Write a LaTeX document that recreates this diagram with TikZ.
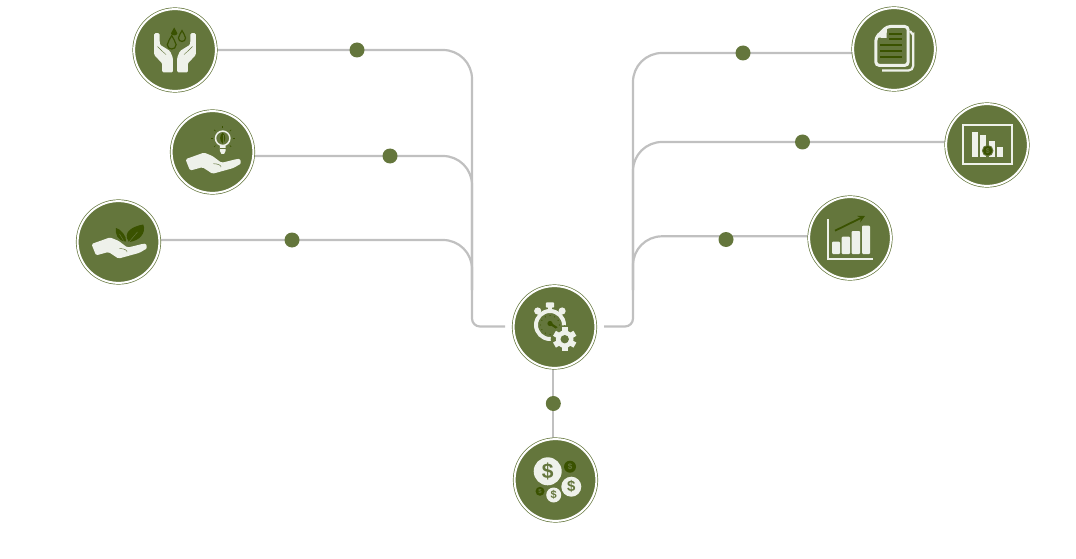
\documentclass[tikz,border=0pt]{standalone}
\usepackage{fontspec}
\setsansfont{Liberation Sans}
\usepackage{tikz}
\usetikzlibrary{arrows.meta,backgrounds}

\definecolor{leaf}{HTML}{64763C}
\definecolor{deep}{HTML}{3A5200}
\definecolor{ice}{HTML}{EEF1EA}
\definecolor{wire}{HTML}{C0C0C0}

\tikzset{
    pics/openhand/.style={code={
        \fill[ice, rounded corners=1.5pt] (-27,2) -- (-8.5,-4.6) -- (0,-1.2) -- (9,5.6) -- (24.5,1.8)
            .. controls (28.5,1.6) and (29,6.2) .. (26,7.8) -- (21,10.8) -- (0,16.6) -- (-10,10) -- (-22.5,13.4) -- cycle;
        \draw[leaf, line width=.5pt] (1,6.5) .. controls (6,6.5) and (9,8.5) .. (8.5,10);
    }}
}

\begin{document}
\begin{tikzpicture}[
    x=1pt, y=-1pt,
    disc/.style={circle, draw=leaf, fill=leaf, double=white, double distance=2pt, line width=.7pt,
        minimum size=81.8pt, inner sep=0pt, outer sep=0pt},
    knot/.style={circle, fill=leaf, minimum size=15pt, inner sep=0pt, outer sep=0pt},
    line/.style={draw=wire, line width=2.2pt},
    coin/.style={circle, fill=ice, text=leaf, inner sep=0pt, outer sep=0pt, font=\sffamily\bfseries},
    darkcoin/.style={coin, fill=deep, text=leaf}
]
    \useasboundingbox (0,0) rectangle (1076,559);

    \node[disc] (care) at (175,50) {};
    \node[disc] (bulb) at (212.5,152) {};
    \node[disc] (plant) at (118.5,242) {};
    \node[disc] (hub) at (554.5,327) {};
    \node[disc] (coins) at (555.5,480) {};
    \node[disc] (papers) at (894,49) {};
    \node[disc] (board) at (987,145) {};
    \node[disc] (growth) at (850,238) {};

    \node[knot] (caredot) at (357,50) {};
    \node[knot] (bulbdot) at (390,156) {};
    \node[knot] (plantdot) at (292,240) {};
    \node[knot] (papersdot) at (743,53) {};
    \node[knot] (boarddot) at (802.5,142) {};
    \node[knot] (growthdot) at (726,239.5) {};
    \node[knot] (coinsdot) at (553.3,403.5) {};

    \coordinate (leftdrop) at (472,290);
    \coordinate (rightdrop) at (633,290);
    \coordinate (leftend) at (505,326.5);
    \coordinate (rightend) at (604,326.5);
    \coordinate (growthbend) at (633,236.3);

    \begin{scope}[on background layer]
        \foreach \a in {care,bulb,plant}
            \draw[line, rounded corners=29pt] (\a dot -| \a) -- (\a dot -| leftdrop) -- (leftdrop);
        \foreach \a in {papers,board}
            \draw[line, rounded corners=29pt] (\a dot -| \a) -- (\a dot -| rightdrop) -- (rightdrop);
        \draw[line, rounded corners=29pt] (growthbend -| growth) -- (growthbend) -- (rightdrop);
        \draw[line, rounded corners=8pt] (leftdrop) -- (leftdrop |- leftend) -- (leftend);
        \draw[line, rounded corners=8pt] (rightdrop) -- (rightdrop |- rightend) -- (rightend);
        \draw[line] (coinsdot |- hub) -- (coinsdot |- coins);
    \end{scope}

    % hands and drops
    \begin{scope}[shift={(care)}]
        \foreach \s in {1,-1} {
            \fill[ice, rounded corners=1.2pt, xscale=\s] (-20.8,-16.8) -- (-15.4,-16.8) -- (-15.2,-5.4) -- (-5,1) -- (-2.2,7.5)
                -- (-2.2,22.4) -- (-12.8,22.4) -- (-12.8,13.4) -- (-20.8,5) -- cycle;
            \draw[leaf, line width=.4pt, xscale=\s] (-17.5,-3.5) -- (-13,1) -- (-9,4.5);
        }
        \fill[deep] (-0.8,-22.5) .. controls (0,-19.5) and (2.4,-18.5) .. (2.4,-16.6) .. controls (2.4,-14) and (-4,-14) .. (-4,-16.6) .. controls (-4,-18.5) and (-1.6,-19.5) .. (-0.8,-22.5) -- cycle;
        \foreach \dx/\dy/\k in {-3.3/-6.5/1.05,7/-13/.85}
            \draw[deep, line width=1.2pt, shift={(\dx,\dy)}, scale=\k] (0,-7.5) .. controls (1,-4) and (4.2,-2.5) .. (4.2,1.2) .. controls (4.2,6.6) and (-4.2,6.6) .. (-4.2,1.2) .. controls (-4.2,-2.5) and (-1,-4) .. (0,-7.5) -- cycle;
    \end{scope}

    % hand under the lamp
    \begin{scope}[shift={(bulb)}]
        \pic at (0,5.2) {openhand};
        \draw[ice, line width=1.5pt] (10.2,-13.7) circle (7.2);
        \fill[ice] (7.4,-6) -- (13,-6) -- (13,-1) -- (11.5,2) -- (8.9,2) -- (7.4,-1) -- cycle;
        \draw[leaf, line width=.5pt] (7.4,-3.4) -- (13,-3.4);
        \fill[deep] (10.2,-19.4) .. controls (13.6,-17) and (13.6,-11) .. (10.2,-8.4) .. controls (6.8,-11) and (6.8,-17) .. (10.2,-19.4) -- cycle;
        \draw[leaf, line width=.4pt] (10.2,-17) -- (10.2,-8.4);
        \foreach \t in {0,45,135,180,225,270,315}
            \draw[deep, line width=.7pt, shift={(10.2,-13.7)}] (\t:10.2) -- (\t:12);
    \end{scope}

    % hand under the leaves
    \begin{scope}[shift={(plant)}]
        \pic at (0,0) {openhand};
        \fill[deep] (7.5,-.5) .. controls (8.5,-6) and (2,-13) .. (-2.5,-14) .. controls (-3.5,-8) and (-1,-1) .. (7.5,-.5) -- cycle;
        \fill[deep] (10.5,0) .. controls (21,-1) and (28,-9) .. (24.8,-17.5) .. controls (15,-16) and (3,-10) .. (10.5,0) -- cycle;
        \draw[leaf, line width=.5pt] (10.5,0) -- (19,-10) (5,-1.5) -- (1,-8);
    \end{scope}

    % stopwatch and gear
    \begin{scope}[shift={(hub)}]
        \draw[ice, line width=4pt] (-4.5,-2) circle (14);
        \fill[ice, rounded corners=1pt] (-8.7,-24.6) rectangle (-0.3,-19.4);
        \fill[ice] (-6.3,-20) rectangle (-2.7,-15);
        \fill[ice] (-16.8,-16) circle (3.6) (7.6,-16) circle (3.6);
        \foreach \t in {0,30,...,330}
            \fill[deep, shift={(-4.5,-2)}] (\t:9.4) circle (.6);
        \draw[deep, line width=2.2pt, line cap=round] (-4.5,-3.5) -- (3.8,2);
        \fill[deep] (-4.5,-3.5) circle (2.6);
        \begin{scope}[shift={(10.2,12.2)}]
            \fill[leaf] (0,0) circle (14);
            \fill[ice] (0,0) circle (8.8);
            \foreach \t in {0,60,120}
                \fill[ice, rotate=\t] (-2.9,-11.8) rectangle (2.9,11.8);
            \fill[leaf] (0,0) circle (4.2);
        \end{scope}
    \end{scope}

    % coins
    \begin{scope}[shift={(coins)}]
        \node[coin, minimum size=28pt, font=\sffamily\bfseries\fontsize{21}{21}\selectfont] (bigcoin) at (-7.8,-8.7) {\$};
        \node[coin, minimum size=20pt, font=\sffamily\bfseries\fontsize{15}{15}\selectfont] (rightcoin) at (15.8,6.7) {\$};
        \node[coin, minimum size=15pt, font=\sffamily\bfseries\fontsize{11}{11}\selectfont] (lowcoin) at (-1.8,15) {\$};
        \node[darkcoin, minimum size=12pt, font=\sffamily\bfseries\fontsize{8}{8}\selectfont] (darkcoinA) at (14.5,-13.3) {\$};
        \node[darkcoin, minimum size=9pt, font=\sffamily\bfseries\fontsize{6}{6}\selectfont] (darkcoinB) at (-15.5,11.3) {\$};
    \end{scope}

    % papers
    \begin{scope}[shift={(papers)}]
        \draw[ice, line width=2.2pt, rounded corners=5pt] (16,-18) .. controls (18.5,-15) and (19.3,-13) .. (19.3,-10) -- (19.3,21.6) -- (-12,21.6);
        \draw[ice, line width=3pt, rounded corners=3.5pt] (-7,-22.5) -- (14.2,-22.5) -- (14.2,16.4) -- (-18.2,16.4) -- (-18.2,-11.5) -- cycle;
        \fill[ice] (-18.2,-11.5) -- (-7,-22.5) -- (-7.5,-11) -- cycle;
        \foreach \h in {-14.7,-10}
            \draw[deep, line width=1.7pt] (-5,\h) -- (8.4,\h);
        \foreach \h in {-4,1.7,7.7}
            \draw[deep, line width=1.7pt] (-14,\h) -- (8.4,\h);
    \end{scope}

    % bars on a board
    \begin{scope}[shift={(board)}]
        \draw[ice, line width=2pt] (-24.3,-19.7) rectangle (24.7,19);
        \fill[ice] (-15.3,-13) rectangle (-9.3,12.3);
        \fill[ice] (-7,-9.7) rectangle (-.6,12.3);
        \fill[ice] (1.7,-3.7) rectangle (8,12.3);
        \fill[ice] (10,2.3) rectangle (16.3,12.3);
        \node[darkcoin, minimum size=10.6pt, line width=.9pt, draw=leaf, font=\sffamily\bfseries\fontsize{7}{7}\selectfont] (boardcoin) at (.7,5.7) {\$};
    \end{scope}

    % rising bars
    \begin{scope}[shift={(growth)}]
        \draw[ice, line width=2pt] (-22.3,-18.7) -- (-22.3,21) -- (23.3,21);
        \foreach \l/\r/\h in {-18/-10/3.7,-8.3/0/-1.3,1.7/10/-7,12/20/-12.3}
            \fill[ice, rounded corners=1pt] (\l,16) rectangle (\r,\h);
        \draw[deep, line width=1.8pt, -{Stealth[length=7pt,width=7pt,inset=2.5pt]}] (-15,-7.3) -- (15,-22);
    \end{scope}
\end{tikzpicture}
\end{document}
